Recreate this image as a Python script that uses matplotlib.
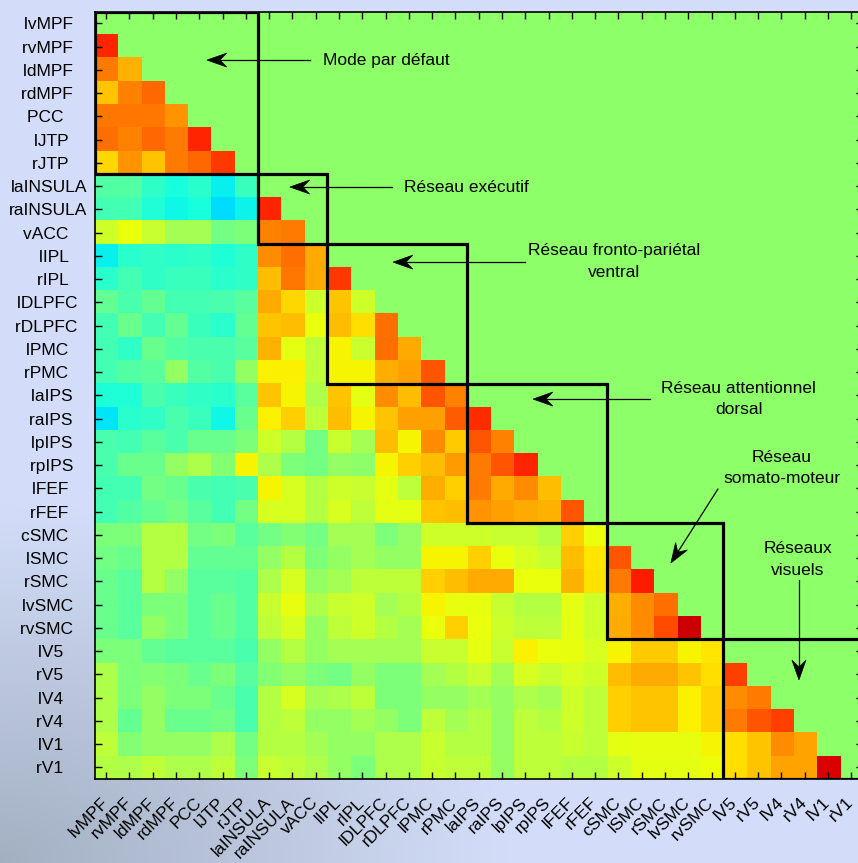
import numpy as np
import matplotlib
matplotlib.use("Agg")
import matplotlib.pyplot as plt
from matplotlib.patches import Rectangle, Polygon
from matplotlib.transforms import ScaledTranslation

plt.rcParams['font.family'] = ['Liberation Sans', 'DejaVu Sans']

# Regions of interest, in matrix order
regions = ["lvMPF", "rvMPF", "ldMPF", "rdMPF", "PCC", "lJTP", "rJTP",
           "laINSULA", "raINSULA", "vACC",
           "lIPL", "rIPL", "lDLPFC", "rDLPFC", "lPMC", "rPMC",
           "laIPS", "raIPS", "lpIPS", "rpIPS", "lFEF", "rFEF",
           "cSMC", "lSMC", "rSMC", "lvSMC", "rvSMC",
           "lV5", "rV5", "lV4", "rV4", "lV1", "rV1"]

# Number of regions in each network block (same order as above)
network_sizes = [7, 3, 6, 6, 5, 6]

# Strictly lower triangle: row i holds correlations with regions 0..i-1
corr_rows = [
    [],
    [0.74],
    [0.56, 0.44],
    [0.40, 0.54, 0.60],
    [0.57, 0.57, 0.57, 0.50],
    [0.58, 0.54, 0.60, 0.56, 0.74],
    [0.36, 0.50, 0.40, 0.56, 0.60, 0.70],
    [-0.10, -0.10, -0.18, -0.24, -0.20, -0.28, -0.16],
    [-0.14, -0.14, -0.22, -0.26, -0.24, -0.32, -0.27, 0.74],
    [0.20, 0.27, 0.18, 0.10, 0.10, -0.02, 0.00, 0.54, 0.56],
    [-0.28, -0.20, -0.18, -0.20, -0.18, -0.22, -0.18, 0.52, 0.58, 0.46],
    [-0.20, -0.14, -0.18, -0.16, -0.16, -0.20, -0.18, 0.42, 0.57, 0.46, 0.70],
    [-0.06, -0.12, -0.06, -0.14, -0.14, -0.12, -0.08, 0.46, 0.36, 0.20, 0.40, 0.20],
    [-0.14, -0.04, -0.14, -0.06, -0.16, -0.20, -0.06, 0.40, 0.42, 0.27, 0.42, 0.35, 0.58],
    [-0.14, -0.18, -0.04, -0.10, -0.12, -0.12, -0.08, 0.44, 0.25, 0.16, 0.30, 0.18, 0.58, 0.46],
    [-0.14, -0.10, -0.08, 0.06, -0.10, -0.12, 0.06, 0.31, 0.31, 0.16, 0.30, 0.30, 0.45, 0.48, 0.64],
    [-0.22, -0.22, -0.12, -0.16, -0.18, -0.20, -0.08, 0.40, 0.30, 0.12, 0.40, 0.25, 0.52, 0.42,
     0.64, 0.54],
    [-0.30, -0.20, -0.18, -0.12, -0.16, -0.26, -0.04, 0.31, 0.38, 0.16, 0.42, 0.30, 0.40, 0.48,
     0.48, 0.62, 0.72],
    [-0.12, -0.14, -0.08, -0.12, -0.04, -0.04, 0.00, 0.20, 0.14, -0.02, 0.18, 0.10, 0.42, 0.30,
     0.52, 0.39, 0.64, 0.54],
    [-0.12, -0.04, -0.04, 0.06, 0.12, 0.02, 0.30, 0.12, 0.00, -0.02, 0.06, 0.04, 0.30, 0.38,
     0.42, 0.49, 0.56, 0.64, 0.74],
    [-0.14, -0.14, -0.02, -0.04, -0.12, -0.14, -0.12, 0.30, 0.22, 0.14, 0.20, 0.18, 0.25, 0.16,
     0.45, 0.38, 0.56, 0.46, 0.52, 0.42],
    [-0.14, -0.10, -0.06, -0.02, -0.08, -0.14, -0.02, 0.22, 0.22, 0.14, 0.22, 0.16, 0.25, 0.25,
     0.40, 0.42, 0.50, 0.48, 0.46, 0.44, 0.64],
    [0.00, 0.00, 0.14, 0.14, -0.02, 0.00, -0.08, -0.02, 0.02, -0.02, 0.10, 0.10, 0.00, 0.06,
     0.20, 0.20, 0.20, 0.18, 0.18, 0.14, 0.38, 0.27],
    [-0.02, -0.04, 0.14, 0.14, -0.06, -0.06, -0.06, 0.06, 0.14, 0.00, 0.06, 0.10, 0.06, 0.06,
     0.30, 0.30, 0.38, 0.27, 0.22, 0.18, 0.42, 0.33, 0.64],
    [-0.04, -0.08, 0.14, 0.06, -0.08, -0.08, -0.10, 0.12, 0.22, 0.06, 0.10, 0.16, 0.16, 0.16,
     0.38, 0.42, 0.46, 0.46, 0.27, 0.27, 0.44, 0.34, 0.56, 0.76],
    [-0.04, -0.08, 0.00, 0.00, -0.08, -0.04, -0.10, 0.18, 0.26, 0.12, 0.18, 0.20, 0.10, 0.14,
     0.30, 0.26, 0.26, 0.18, 0.14, 0.14, 0.25, 0.20, 0.45, 0.52, 0.58],
    [-0.04, -0.08, 0.06, 0.00, -0.08, -0.04, -0.10, 0.16, 0.22, 0.06, 0.16, 0.20, 0.14, 0.10,
     0.27, 0.38, 0.27, 0.20, 0.16, 0.16, 0.25, 0.20, 0.46, 0.52, 0.66, 0.86],
    [0.00, 0.00, -0.06, -0.08, -0.08, -0.08, -0.12, 0.06, 0.14, 0.06, 0.10, 0.10, 0.10, 0.10,
     0.18, 0.18, 0.25, 0.18, 0.31, 0.27, 0.26, 0.22, 0.30, 0.39, 0.39, 0.30, 0.33],
    [0.12, 0.00, 0.02, 0.00, -0.04, 0.00, -0.08, 0.02, 0.06, 0.00, -0.02, 0.06, 0.00, 0.00,
     0.10, 0.14, 0.18, 0.10, 0.22, 0.18, 0.22, 0.20, 0.42, 0.46, 0.46, 0.40, 0.35, 0.68],
    [0.12, 0.00, 0.06, 0.00, 0.00, -0.04, -0.12, 0.14, 0.22, 0.10, 0.12, 0.16, 0.00, 0.00,
     0.06, 0.06, 0.10, 0.06, 0.12, 0.10, 0.20, 0.16, 0.38, 0.40, 0.40, 0.31, 0.37, 0.52, 0.56],
    [0.12, -0.06, 0.06, -0.04, -0.04, -0.02, -0.12, 0.14, 0.16, 0.06, 0.06, 0.10, 0.06, 0.00,
     0.16, 0.10, 0.14, 0.06, 0.16, 0.14, 0.20, 0.16, 0.38, 0.40, 0.40, 0.31, 0.37, 0.56, 0.64,
     0.68],
    [0.16, 0.02, 0.06, 0.06, 0.06, 0.12, -0.02, 0.14, 0.14, 0.10, 0.06, 0.06, 0.12, 0.12,
     0.18, 0.14, 0.14, 0.06, 0.16, 0.16, 0.18, 0.16, 0.25, 0.26, 0.26, 0.26, 0.30, 0.35, 0.40,
     0.52, 0.47],
    [0.14, 0.12, 0.16, 0.12, 0.12, 0.16, 0.00, 0.18, 0.16, 0.12, 0.06, 0.00, 0.12, 0.12,
     0.18, 0.16, 0.16, 0.06, 0.16, 0.16, 0.14, 0.14, 0.20, 0.25, 0.25, 0.25, 0.28, 0.35, 0.40,
     0.47, 0.47, 0.84],
]

# value shown in the empty (upper) half of the matrix
empty_value = 0.04

n = len(regions)
mat = np.full((n, n), empty_value)
for i, row in enumerate(corr_rows):
    mat[i, :len(row)] = row

fig = plt.figure(figsize=(8.58, 8.63), dpi=100)

# soft bluish backdrop, darker towards the lower left corner
u, v = np.meshgrid(np.linspace(0, 1, 200), np.linspace(1, 0, 200))
f = np.clip(1 - np.sqrt((u / 0.6) ** 2 + (v / 0.42) ** 2), 0, 1)[..., None]
light = np.array([0.83, 0.87, 0.98])
dark = np.array([0.64, 0.69, 0.76])
bg = fig.add_axes([0, 0, 1, 1], zorder=0)
bg.imshow(light * (1 - f) + dark * f, extent=[0, 1, 0, 1], aspect='auto')
bg.axis('off')

ax = fig.add_axes([94.5 / 858, 84 / 863, 768.5 / 858, 767.3 / 863], zorder=1)
ax.imshow(mat, cmap='jet', vmin=-1, vmax=1, interpolation='nearest', aspect='auto')

ax.set_xticks(range(n))
ax.set_xticklabels(regions, rotation=45, ha='right', va='baseline',
                   rotation_mode='anchor', fontsize=12.5)
ax.set_yticks(range(n))
ax.set_yticklabels([r.ljust(8) for r in regions], fontsize=12.5)
ax.tick_params(axis='x', direction='in', length=5, width=1, top=True, pad=17.5)
ax.tick_params(axis='y', direction='in', length=5, width=1, right=True, pad=5)
shift = ScaledTranslation(3 / 100, 0, fig.dpi_scale_trans)
for lab in ax.get_xticklabels():
    lab.set_transform(lab.get_transform() + shift)
for s in ax.spines.values():
    s.set_linewidth(1.2)

# network blocks
start = 0
for size in network_sizes:
    ax.add_patch(Rectangle((start - 0.5, start - 0.5), size, size, fill=False,
                           edgecolor='black', linewidth=2.3))
    start += size


def arrow(ax, tail, tip, head_len=0.85, head_w=0.3):
    tail = np.asarray(tail, float)
    tip = np.asarray(tip, float)
    d = tip - tail
    d /= np.hypot(*d)
    nrm = np.array([-d[1], d[0]])
    notch = tip - d * head_len * 0.65
    back = tip - d * head_len
    ax.plot([tail[0], notch[0]], [tail[1], notch[1]], color='black', lw=0.9)
    ax.add_patch(Polygon([tip, back + nrm * head_w, notch, back - nrm * head_w],
                         closed=True, facecolor='black', edgecolor='black', lw=0.5))


txt = dict(fontsize=12.5, color='black', linespacing=1.55)

ax.text(9.3, 1.58, "Mode par défaut", ha='left', va='center', **txt)
arrow(ax, (8.75, 1.58), (4.33, 1.58))

ax.text(12.8, 7.04, "Réseau exécutif", ha='left', va='center', **txt)
arrow(ax, (12.27, 7.04), (7.89, 7.04))

ax.text(21.8, 10.24, "Réseau fronto-pariétal\nventral", ha='center', va='center', **txt)
arrow(ax, (17.98, 10.27), (12.32, 10.27))

ax.text(27.17, 16.16, "Réseau attentionnel\ndorsal", ha='center', va='center', **txt)
arrow(ax, (23.35, 16.16), (18.33, 16.16))

ax.text(29.02, 19.12, "Réseau\nsomato-moteur", ha='center', va='center', **txt)
arrow(ax, (26.27, 20.03), (24.25, 23.21))

ax.text(29.7, 23.06, "Réseaux\nvisuels", ha='center', va='center', **txt)
arrow(ax, (29.75, 23.94), (29.75, 28.24))

fig.savefig("out.png", dpi=100)
